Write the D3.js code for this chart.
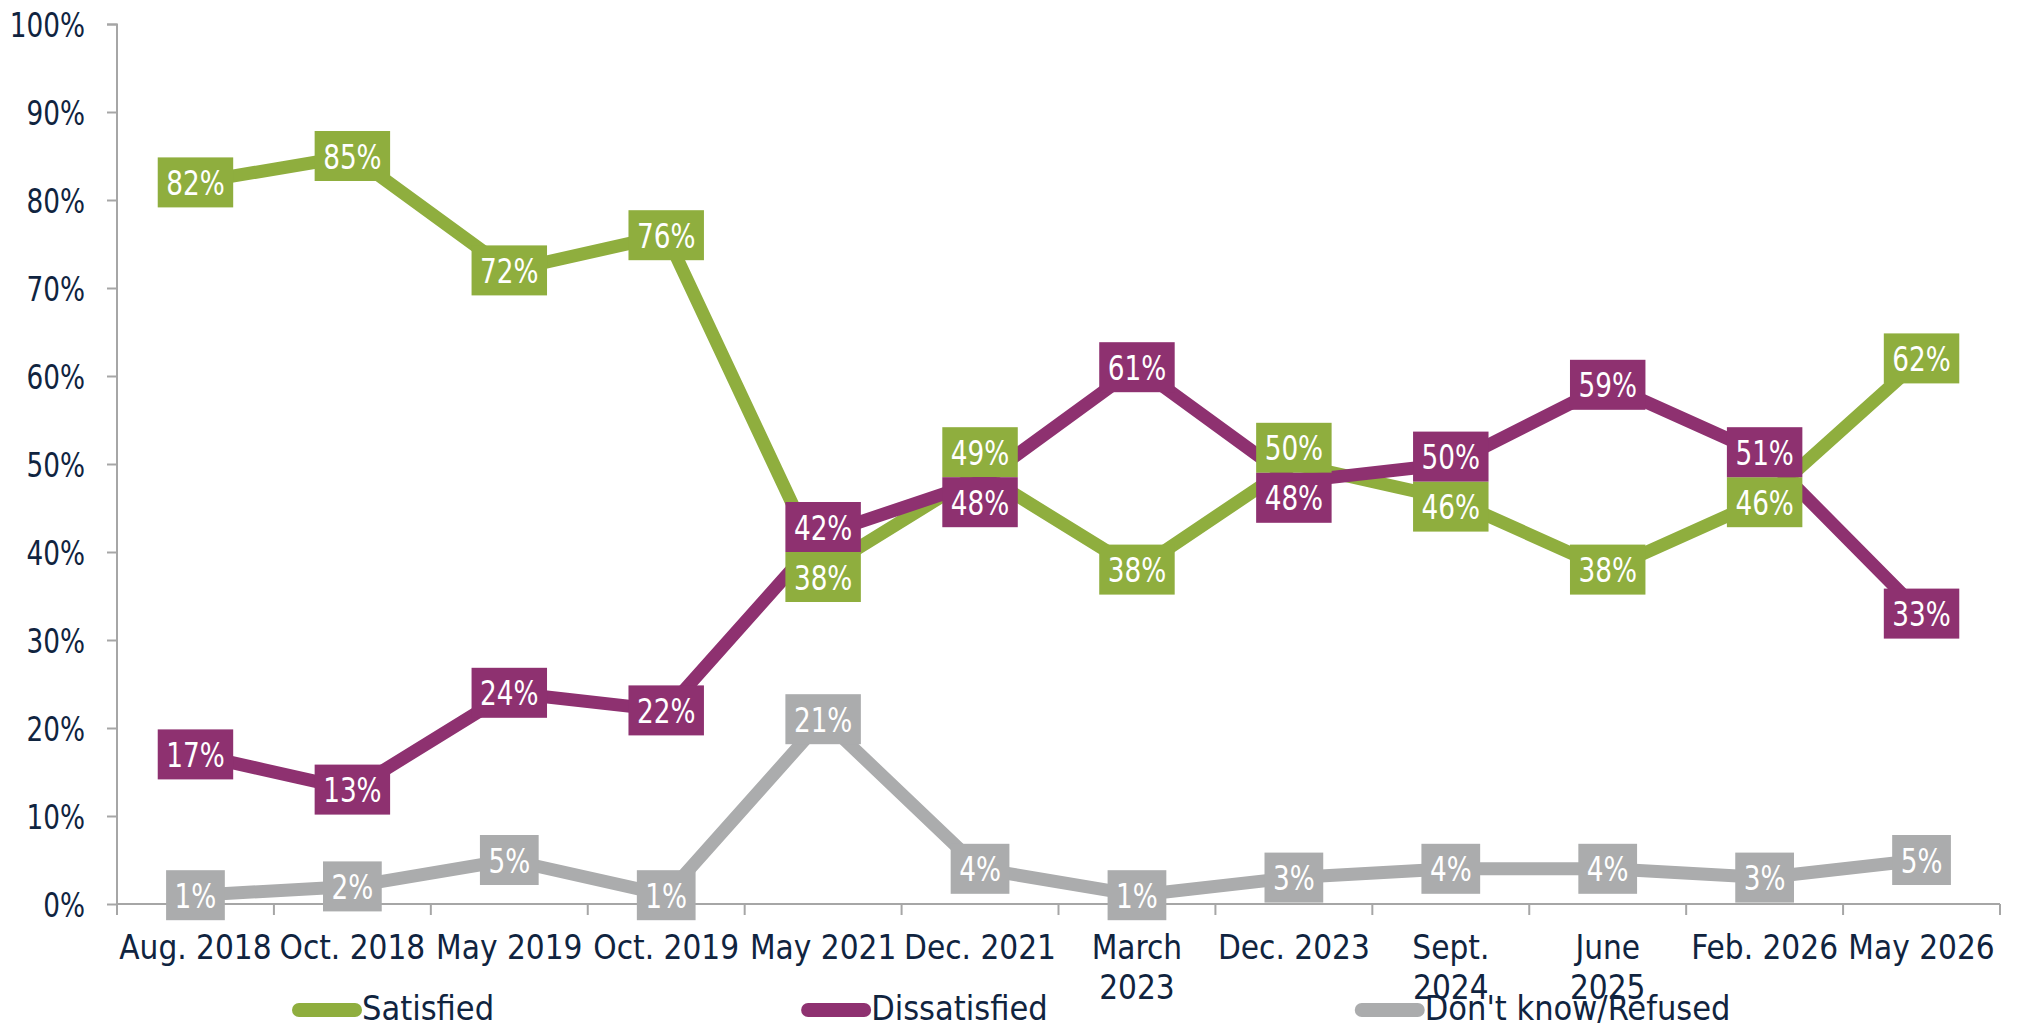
<!DOCTYPE html>
<html>
<head>
<meta charset="utf-8">
<script src="https://cdn.jsdelivr.net/npm/d3@7"></script>
<style>
  body { margin: 0; background: #fff; }
</style>
</head>
<body>
<div class="chart"></div>
<script>
const categories = ['Aug. 2018', 'Oct. 2018', 'May 2019', 'Oct. 2019', 'May 2021', 'Dec. 2021',
  'March\n2023', 'Dec. 2023', 'Sept.\n2024', 'June\n2025', 'Feb. 2026', 'May 2026'];
const satisfied = [82, 85, 72, 76, 38, 49, 38, 50, 46, 38, 46, 62];
const dissatisfied = [17, 13, 24, 22, 42, 48, 61, 48, 50, 59, 51, 33];
const dontKnow = [1, 2, 5, 1, 21, 4, 1, 3, 4, 4, 3, 5];
const seriesNames = ['Satisfied', 'Dissatisfied', "Don't know/Refused"];
const yTicks = [0, 10, 20, 30, 40, 50, 60, 70, 80, 90, 100];

const series = [
  { name: seriesNames[0], values: satisfied, color: '#8fae3e' },
  { name: seriesNames[1], values: dissatisfied, color: '#8e3170' },
  { name: seriesNames[2], values: dontKnow, color: '#abacad' },
];

const chartWidth = 2021;
const chartHeight = 1027;
const margin = { left: 117, right: 21, top: 24, bottom: 123 };
const width = chartWidth - margin.left - margin.right;
const height = chartHeight - margin.top - margin.bottom;

const textColor = '#10243f';
const axisColor = '#a6a6a6';
const font = "'DejaVu Sans Condensed', 'DejaVu Sans', sans-serif";

// narrow the glyphs a bit, the original face is narrower than DejaVu Condensed
const squeeze = (sel, k) => sel.each(function () {
  const l = this.getComputedTextLength();
  d3.select(this)
    .attr('textLength', l * k)
    .attr('lengthAdjust', 'spacingAndGlyphs');
});

const svg = d3.select('.chart')
  .append('svg')
  .attr('width', chartWidth)
  .attr('height', chartHeight)
  .append('g')
  .attr('transform', `translate(${margin.left}, ${margin.top})`);

const xScale = d3.scaleBand()
  .domain(categories)
  .range([0, width])
  .padding(0);

const yScale = d3.scaleLinear()
  .domain([0, 100])
  .range([height, 0]);

const xCenter = (i) => xScale(categories[i]) + xScale.bandwidth() / 2;

// y axis
const yAxis = d3.axisLeft(yScale)
  .tickValues(yTicks)
  .tickSize(10)
  .tickPadding(22)
  .tickFormat(d => `${d}%`);
const yAxisG = svg.append('g').call(yAxis);
yAxisG.select('.domain').attr('stroke', axisColor).attr('stroke-width', 2)
  .attr('d', `M-10,0.5H0V${height}`);
yAxisG.selectAll('.tick line').attr('stroke', axisColor).attr('stroke-width', 2);
yAxisG.selectAll('.tick text')
  .attr('fill', textColor)
  .attr('font-family', font)
  .attr('font-size', '34px')
  .attr('dy', '0.36em')
  .call(squeeze, 0.86);

// x axis: ticks on category boundaries
const xAxisG = svg.append('g').attr('transform', `translate(0, ${height})`);
xAxisG.append('line')
  .attr('x1', 0).attr('x2', width)
  .attr('stroke', axisColor).attr('stroke-width', 2);
xAxisG.selectAll('line.bound')
  .data(d3.range(categories.length + 1))
  .enter()
  .append('line')
  .attr('class', 'bound')
  .attr('x1', i => i * xScale.bandwidth())
  .attr('x2', i => i * xScale.bandwidth())
  .attr('y1', 0).attr('y2', 11)
  .attr('stroke', axisColor).attr('stroke-width', 2);

const xLabels = xAxisG.selectAll('text.cat')
  .data(categories)
  .enter()
  .append('text')
  .attr('class', 'cat')
  .attr('text-anchor', 'middle')
  .attr('font-family', font)
  .attr('font-size', '33px')
  .attr('fill', textColor)
  .attr('transform', (d, i) => `translate(${xCenter(i)}, 55)`);
xLabels.selectAll('tspan')
  .data(d => d.split('\n'))
  .enter()
  .append('tspan')
  .attr('x', 0)
  .attr('y', (d, i) => i * 40)
  .text(d => d);

// lines
const line = d3.line()
  .x((d, i) => xCenter(i))
  .y(d => yScale(d));

svg.selectAll('path.series')
  .data(series)
  .enter()
  .append('path')
  .attr('class', 'series')
  .attr('d', d => line(d.values))
  .attr('fill', 'none')
  .attr('stroke', d => d.color)
  .attr('stroke-width', 13)
  .attr('stroke-linejoin', 'round');

// label positions, nudged apart where two boxes collide
const boxH = 50;
const labelY = series.map(s => s.values.map(v => yScale(v)));
categories.forEach((c, i) => {
  const a = labelY[0][i];
  const b = labelY[1][i];
  if (Math.abs(a - b) < boxH) {
    const mid = (a + b) / 2;
    const upper = series[0].values[i] >= series[1].values[i] ? 0 : 1;
    labelY[upper][i] = mid - boxH / 2;
    labelY[1 - upper][i] = mid + boxH / 2;
  }
});

series.forEach((s, si) => {
  const g = svg.append('g');
  const items = g.selectAll('g.label')
    .data(s.values)
    .enter()
    .append('g')
    .attr('class', 'label')
    .attr('transform', (d, i) => `translate(${xCenter(i)}, ${labelY[si][i]})`);
  const rects = items.append('rect').attr('fill', s.color);
  items.append('text')
    .attr('text-anchor', 'middle')
    .attr('y', 12.5)
    .attr('font-family', font)
    .attr('font-size', '34px')
    .attr('fill', '#ffffff')
    .text(d => `${d}%`)
    .call(squeeze, 0.86);
  rects.each(function () {
    const w = +this.parentNode.querySelector('text').getAttribute('textLength') + 17;
    d3.select(this)
      .attr('x', -w / 2)
      .attr('y', -boxH / 2)
      .attr('width', w)
      .attr('height', boxH);
  });
});

// legend
const legendG = d3.select('.chart svg').append('g')
  .attr('transform', 'translate(292, 1010)');
let legendX = 0;
series.forEach((s) => {
  const item = legendG.append('g').attr('transform', `translate(${legendX}, 0)`);
  item.append('line')
    .attr('x1', 7).attr('x2', 63)
    .attr('stroke', s.color)
    .attr('stroke-width', 14)
    .attr('stroke-linecap', 'round');
  const t = item.append('text')
    .attr('x', 70)
    .attr('y', 10)
    .attr('font-family', font)
    .attr('font-size', '34px')
    .attr('fill', textColor)
    .text(s.name);
  legendX += 70 + t.node().getComputedTextLength() + 307;
});
</script>
</body>
</html>
